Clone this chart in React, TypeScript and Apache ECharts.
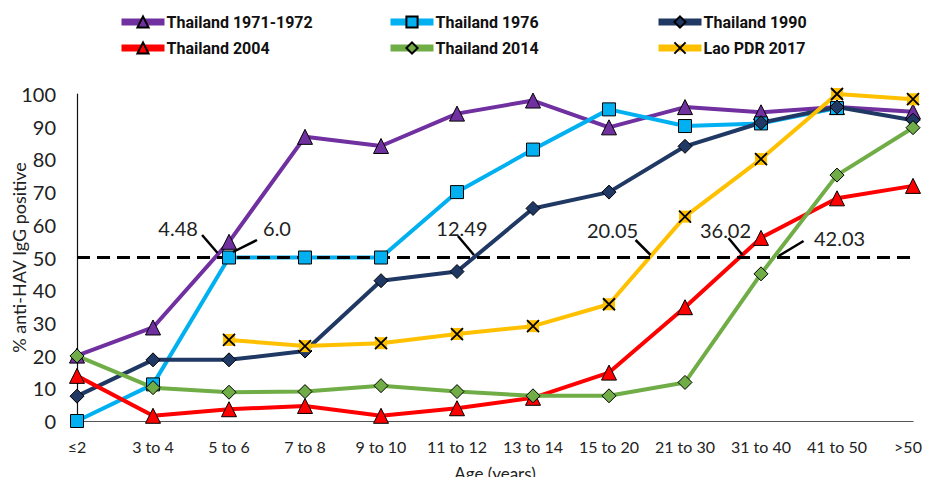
import React, { useEffect, useRef } from "react";
import * as echarts from "echarts";

// Age groups on the x axis
const categories = [
  "≤2", "3 to 4", "5 to 6", "7 to 8", "9 to 10", "11 to 12",
  "13 to 14", "15 to 20", "21 to 30", "31 to 40", "41 to 50", ">50",
];

// % anti-HAV IgG positive per age group
const thai1971 = [20, 28.6, 54.8, 86.9, 84.1, 94, 98, 89.8, 96, 94.4, 96, 94.6];
const thai1976 = [0, 11.2, 50, 50, 50, 70, 83, 95.3, 90.2, 91, 95.7, null];
const thai1990 = [7.6, 18.7, 18.7, 21.4, 42.9, 45.7, 65, 70, 84, 91.2, 96, 92];
const thai2004 = [13.8, 1.6, 3.6, 4.6, 1.6, 3.9, 7.1, 14.8, 34.8, 56, 68.1, 71.9];
const thai2014 = [19.9, 10.2, 8.8, 9, 10.8, 9, 7.7, 7.7, 11.8, 45, 75.2, 89.7];
const lao2017 = [null, null, 24.8, 22.9, 23.8, 26.6, 29, 35.7, 62.5, 80.1, 100, 98.4];

const seriesNames = [
  "Thailand 1971-1972", "Thailand 1976", "Thailand 1990",
  "Thailand 2004", "Thailand 2014", "Lao PDR 2017",
];
const seriesValues = [thai1971, thai1976, thai1990, thai2004, thai2014, lao2017];

// Age (years) at which 50% seroprevalence is reached, in series order
const crossingLabels = ["4.48", "6.0", "12.49", "36.02", "42.03", "20.05"];
const threshold = 50;

const yTicks = { min: 0, max: 100, interval: 10 };

// Styling
const colors = ["#7030A0", "#00B0F0", "#203864", "#FF0000", "#70AD47", "#FFC000"];
const CROSS = "path://M0,0L10,10M10,0L0,10";
const symbols = ["triangle", "rect", "diamond", "triangle", "diamond", CROSS];
const symbolSizes = [15, 13, 14, 15, 14, 12];
const legendLefts = [118, 387, 655];
const legendTops = [14, 40];

// Leader line and text offsets (px) from each crossing point, in series order
const calloutLayout = [
  { x1: -13, y1: -22.5, x2: 2.5, y2: -4.5, tx: -37, ty: -30 },
  { x1: 28, y1: -17.5, x2: 4, y2: -5.5, tx: 48, ty: -30 },
  { x1: -16, y1: -21.5, x2: 0, y2: -2.5, tx: -12, ty: -29.5 },
  { x1: -11, y1: -19.5, x2: 3, y2: -2.5, tx: -14, ty: -27.5 },
  { x1: 30, y1: -16.5, x2: 5, y2: -1.5, tx: 66, ty: -19.5 },
  { x1: -14, y1: -17.5, x2: 1, y2: -2.5, tx: -37, ty: -27.5 },
];

const FONT = "Lato, 'Open Sans', sans-serif";

// Fractional category index where the series first reaches the threshold
function crossingIndex(values: (number | null)[], level: number): number {
  for (let i = 0; i < values.length - 1; i++) {
    const a = values[i];
    const b = values[i + 1];
    if (a == null || b == null) continue;
    if (a < level && b >= level) return i + (level - a) / (b - a);
  }
  return NaN;
}

export default function App() {
  const ref = useRef<HTMLDivElement>(null);

  useEffect(() => {
    if (!ref.current) return;
    const chart = echarts.init(ref.current, null, { renderer: "svg" });

    const isLao = (i: number) => i === 5;

    const makeSeries = (i: number) => ({
      id: `s${i}`,
      name: seriesNames[i],
      type: "line",
      data: seriesValues[i],
      xAxisIndex: 0,
      yAxisIndex: 0,
      symbol: symbols[i],
      symbolSize: symbolSizes[i],
      showAllSymbol: true,
      connectNulls: false,
      clip: false,
      lineStyle: { color: colors[i], width: 4 },
      itemStyle: isLao(i)
        ? { color: "rgba(0,0,0,0)", borderColor: "#000", borderWidth: 1.8 }
        : { color: colors[i], borderColor: "#000", borderWidth: 1 },
      emphasis: { disabled: true },
    });

    // Yellow squares sitting behind the Lao PDR crosses
    const laoSquares = {
      id: "laoSquares",
      name: "Lao PDR 2017 squares",
      type: "line",
      data: lao2017,
      symbol: "rect",
      symbolSize: 12,
      showAllSymbol: true,
      clip: false,
      lineStyle: { opacity: 0 },
      itemStyle: { color: colors[5], borderWidth: 0 },
      emphasis: { disabled: true },
      silent: true,
    };

    const series: any[] = [0, 1, 2, 3, 4].map(makeSeries);
    series.push(laoSquares, makeSeries(5));
    series.push({
      id: "threshold",
      name: "threshold",
      type: "line",
      xAxisIndex: 1,
      yAxisIndex: 0,
      data: [
        [0, threshold],
        [categories.length - 1, threshold],
      ],
      symbol: "none",
      lineStyle: { color: "#000", width: 3, type: [13, 7] },
      emphasis: { disabled: true },
      silent: true,
    });

    const lastCategory = categories[categories.length - 1];

    const option = {
      animation: false,
      backgroundColor: "#fff",
      grid: { left: 77, right: 17, top: 94, bottom: 64, outerBoundsMode: "none" },
      legend: seriesNames.map((name, i) => ({
        data: [name],
        left: legendLefts[i % 3],
        top: legendTops[Math.floor(i / 3)],
        padding: 0,
        itemGap: 0,
        itemWidth: 43,
        itemHeight: 14,
        selectedMode: false,
        lineStyle: { width: 7 },
        textStyle: {
          fontFamily: "Roboto, sans-serif",
          fontWeight: "bold",
          fontSize: 16,
          color: "#111",
          padding: [0, 0, 0, -3],
        },
      })),
      xAxis: [
        {
          type: "category",
          data: categories,
          boundaryGap: false,
          name: "Age (years)",
          nameLocation: "middle",
          nameGap: 44,
          nameMoveOverlap: false,
          nameTextStyle: { fontFamily: FONT, fontSize: 17, color: "#222" },
          axisLine: { lineStyle: { color: "#555", width: 1.2 } },
          axisTick: { show: false },
          axisLabel: {
            interval: 0,
            fontFamily: FONT,
            fontSize: 16,
            color: "#222",
            margin: 17,
            formatter: (v: string) => (v === lastCategory ? `{last|${v}}` : v),
            rich: {
              last: { fontFamily: FONT, fontSize: 16, color: "#222", padding: [0, 10, 0, 0] },
            },
          },
          splitLine: { show: false },
        },
        { type: "value", min: 0, max: categories.length - 1, show: false },
      ],
      yAxis: {
        type: "value",
        min: yTicks.min,
        max: yTicks.max,
        interval: yTicks.interval,
        name: "% anti-HAV IgG positive",
        nameLocation: "middle",
        nameRotate: 90,
        nameGap: 49,
        nameMoveOverlap: false,
        nameTextStyle: { fontFamily: FONT, fontSize: 18, color: "#222" },
        axisLine: { show: true, lineStyle: { color: "#111", width: 1.2 } },
        axisTick: { show: false },
        axisLabel: { fontFamily: FONT, fontSize: 20, color: "#222", margin: 21 },
        splitLine: { show: false },
      },
      series,
    };

    chart.setOption(option as any);

    // Leader lines and labels at each 50% crossing, placed through the axis scale
    const graphics: any[] = [];
    seriesValues.forEach((values, i) => {
      const xi = crossingIndex(values, threshold);
      const [cx, cy] = chart.convertToPixel({ xAxisIndex: 1, yAxisIndex: 0 }, [xi, threshold]) as number[];
      const o = calloutLayout[i];
      graphics.push({
        type: "line",
        silent: true,
        z: 10,
        shape: { x1: cx + o.x1, y1: cy + o.y1, x2: cx + o.x2, y2: cy + o.y2 },
        style: { stroke: "#000", lineWidth: 2.5 },
      });
      graphics.push({
        type: "text",
        silent: true,
        z: 10,
        x: cx + o.tx,
        y: cy + o.ty,
        style: {
          text: crossingLabels[i],
          fill: "#222",
          fontFamily: FONT,
          fontSize: 20,
          align: "center",
          verticalAlign: "middle",
        },
      });
    });
    chart.setOption({ graphic: graphics });

    return () => chart.dispose();
  }, []);

  return <div ref={ref} style={{ width: 930, height: 485, margin: -8 }} />;
}
